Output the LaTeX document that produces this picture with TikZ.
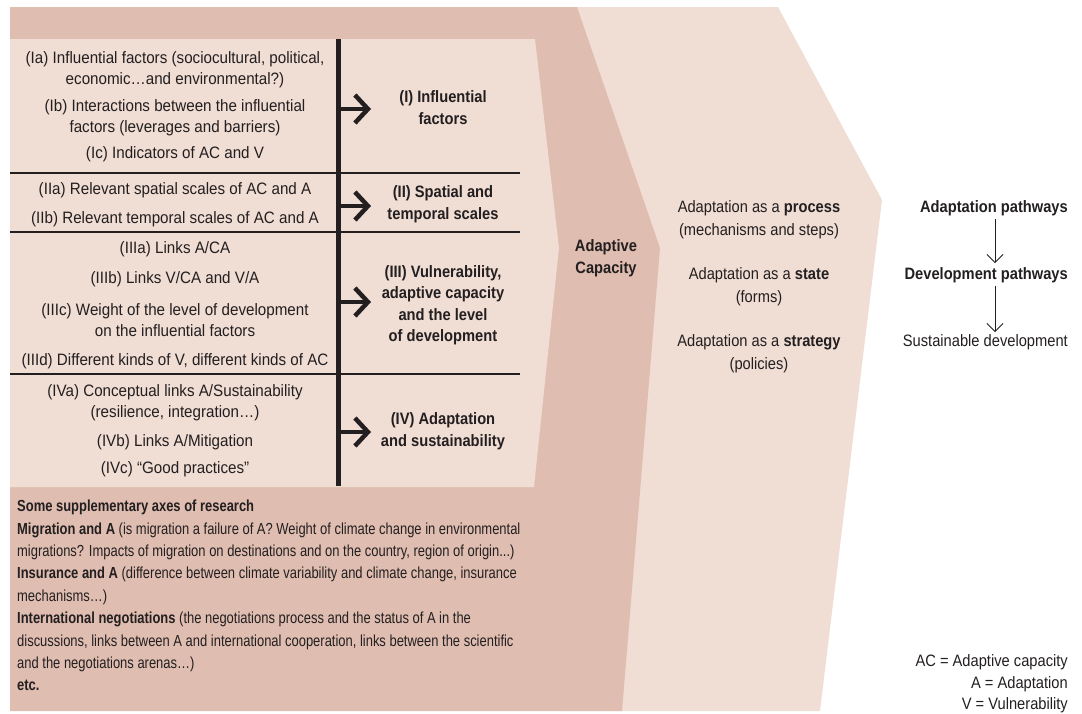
\documentclass[tikz,border=0pt]{standalone}
\usepackage{fontspec}
\setmainfont{Liberation Sans}[FakeStretch=0.89]
\newfontfamily\leftfont{Liberation Sans}[FakeStretch=0.92]
\newfontfamily\bottomfont{Liberation Sans}[FakeStretch=0.81]
\usetikzlibrary{arrows.meta}
\definecolor{darkpink}{HTML}{DFBDB0}
\definecolor{lightpink}{HTML}{F0DDD4}
\definecolor{ink}{HTML}{231F20}
\begin{document}
\begin{tikzpicture}[x=1pt,y=-1pt,
  every node/.style={text=ink, inner sep=0pt},
  txt/.style={font=\leftfont\fontsize{16.5}{21}\selectfont, align=center},
  bld/.style={font=\bfseries\fontsize{16.5}{21.5}\selectfont, align=center},
  mid/.style={font=\fontsize{16.5}{22.5}\selectfont, align=center},
  rtxt/.style={font=\fontsize{16.5}{21.5}\selectfont},
  rule/.style={draw=ink, line width=1.3pt},
  bar/.style={draw=ink, line width=4.5pt},
  bigarrow/.style={draw=ink, line width=4.5pt, -{Straight Barb[length=13pt,width=28pt]}},
  thinarrow/.style={draw=ink, line width=0.9pt, -{Straight Barb[length=8pt,width=16pt]}}
]
\useasboundingbox (0,0) rectangle (1082,713);
% background shapes
\fill[lightpink] (560,7) -- (778,7) -- (882,200) -- (820,711) -- (560,711) -- cycle;
\fill[darkpink] (10,7) -- (577,7) -- (660,248) -- (622,711) -- (10,711) -- cycle;
\fill[lightpink] (10,39) -- (535,39) -- (559,248) -- (534,487) -- (10,487) -- cycle;
% separators
\draw[rule] (10,173) -- (520,173);
\draw[rule] (10,232) -- (520,232);
\draw[rule] (10,374) -- (520,374);
% vertical bar
\coordinate (bartop) at (338.5,39);
\coordinate (barbot) at (338.5,486);
\draw[bar] (bartop) -- (barbot);
% left column items
\node[txt] (ia) at (175,69.5) {(Ia) Influential factors (sociocultural, political,\\economic…and environmental?)};
\node[txt] (ib) at (175,117.5) {(Ib) Interactions between the influential\\factors (leverages and barriers)};
\node[txt] (ic) at (175,154) {(Ic) Indicators of AC and V};
\node[txt] (iia) at (175,190.5) {(IIa) Relevant spatial scales of AC and A};
\node[txt] (iib) at (175,219.5) {(IIb) Relevant temporal scales of AC and A};
\node[txt] (iiia) at (175,249.5) {(IIIa) Links A/CA};
\node[txt] (iiib) at (175,279.5) {(IIIb) Links V/CA and V/A};
\node[txt] (iiic) at (175,320.5) {(IIIc) Weight of the level of development\\on the influential factors};
\node[txt] (iiid) at (175,361.5) {(IIId) Different kinds of V, different kinds of AC};
\node[txt] (iva) at (175,403) {(IVa) Conceptual links A/Sustainability\\(resilience, integration…)};
\node[txt] (ivb) at (175,442.5) {(IVb) Links A/Mitigation};
\node[txt] (ivc) at (175,469.5) {(IVc) “Good practices”};
% right column bold labels
\node[bld] (li) at (443,107.5) {(I) Influential\\factors};
\node[bld] (lii) at (443,204) {(II) Spatial and\\temporal scales};
\node[bld] (liii) at (443,305) {(III) Vulnerability,\\adaptive capacity\\and the level\\of development};
\node[bld] (liv) at (443,431) {(IV) Adaptation\\and sustainability};
% big arrows
\coordinate (si) at (338.5,109);   \coordinate (ti) at (371,109);
\coordinate (sii) at (338.5,206);  \coordinate (tii) at (371,206);
\coordinate (siii) at (338.5,302); \coordinate (tiii) at (371,302);
\coordinate (siv) at (338.5,432);  \coordinate (tiv) at (371,432);
\draw[bigarrow] (si) -- (ti);
\draw[bigarrow] (sii) -- (tii);
\draw[bigarrow] (siii) -- (tiii);
\draw[bigarrow] (siv) -- (tiv);
% adaptive capacity
\node[bld] (ac) at (606,258) {Adaptive\\Capacity};
% middle column
\node[mid] (proc) at (759,219.5) {Adaptation as a \textbf{process}\\(mechanisms and steps)};
\node[mid] (stat) at (759,286.5) {Adaptation as a \textbf{state}\\(forms)};
\node[mid] (strat) at (759,353.5) {Adaptation as a \textbf{strategy}\\(policies)};
% right column
\node[bld, anchor=east] (apath) at (1068,208) {Adaptation pathways};
\node[bld, anchor=east] (dpath) at (1068,275) {Development pathways};
\node[rtxt, anchor=east] (spath) at (1068,342) {Sustainable development};
\coordinate (ax) at (995,0);
\draw[thinarrow, shorten <=3pt, shorten >=4pt] (apath.south -| ax) -- (dpath.north -| ax);
\draw[thinarrow, shorten <=3pt, shorten >=2pt] (dpath.south -| ax) -- (spath.north -| ax);
% legend
\node[rtxt, align=right, anchor=east] (legend) at (1068,684) {AC = Adaptive capacity\\A = Adaptation\\V = Vulnerability};
% supplementary axes
\node[font=\bottomfont\fontsize{16}{22.4}\selectfont, align=left, anchor=west] (supp) at (17,595.5) {\textbf{Some supplementary axes of research}\\
\textbf{Migration and A} (is migration a failure of A? Weight of climate change in environmental\\
migrations? Impacts of migration on destinations and on the country, region of origin...)\\
\textbf{Insurance and A} (difference between climate variability and climate change, insurance\\
mechanisms…)\\
\textbf{International negotiations} (the negotiations process and the status of A in the\\
discussions, links between A and international cooperation, links between the scientific\\
and the negotiations arenas…)\\
\textbf{etc.}};
\end{tikzpicture}
\end{document}
